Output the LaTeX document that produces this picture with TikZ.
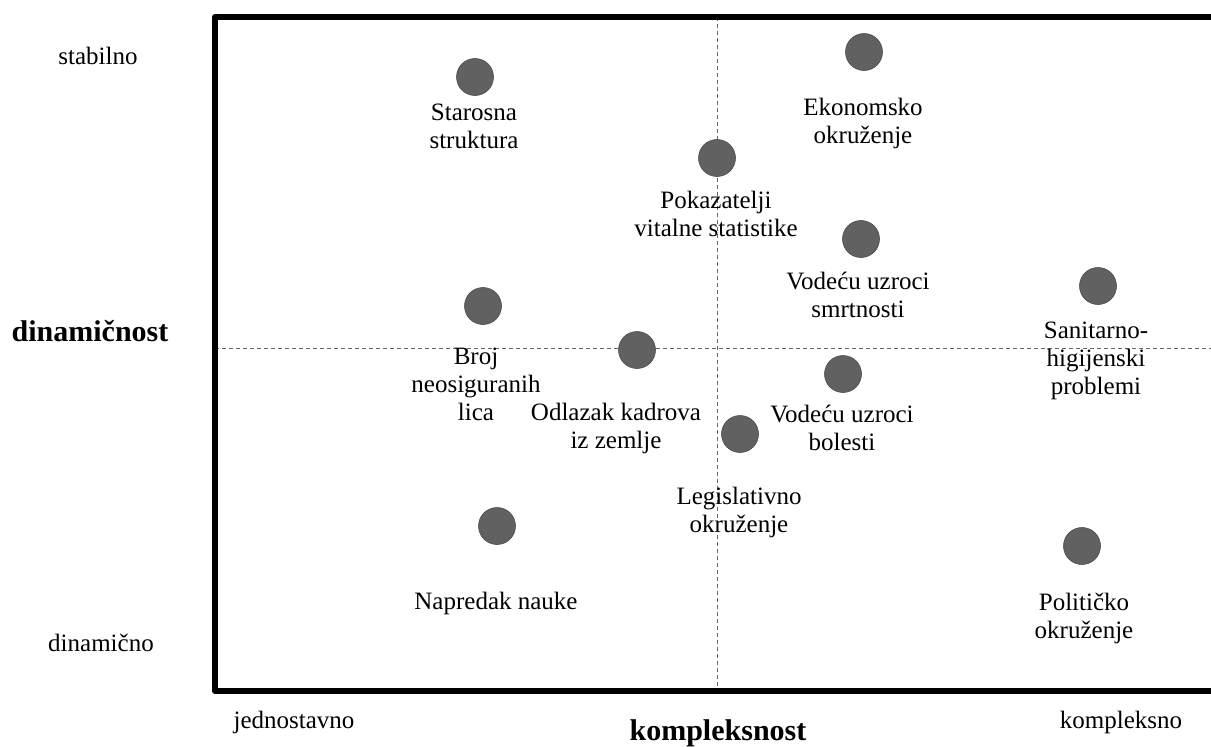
\documentclass[tikz,border=0pt]{standalone}
\usepackage{fontspec}
\setmainfont{Liberation Serif}
\begin{document}
\begin{tikzpicture}[x=1pt,y=-1pt,
  dot/.style={circle,draw=black!70,line width=0.6pt,fill=black!62,minimum size=37pt,inner sep=0pt},
  lbl/.style={align=center,inner sep=0pt,font=\fontsize{25}{28}\selectfont},
  axlbl/.style={inner sep=0pt,font=\fontsize{25}{28}\selectfont},
  ttl/.style={inner sep=0pt,font=\fontsize{30}{34}\selectfont\bfseries},
  guide/.style={draw=black!60,dashed,line width=0.6pt,dash pattern=on 4pt off 3pt},
  frame/.style={draw=black,line width=6pt,line join=round}]
\useasboundingbox (0,0) rectangle (1211,747);
% corners
\coordinate (tr) at (1211,17);
\coordinate (tl) at (215,17);
\coordinate (bl) at (215,691);
\coordinate (br) at (1211,691);
\coordinate (vt) at (717,17);
\coordinate (vb) at (717,691);
\coordinate (hl) at (215,348);
\coordinate (hr) at (1211,348);
% guides
\draw[guide] (vt) -- (vb);
\draw[guide] (hl) -- (hr);
% frame
\draw[frame] (tr) -- (tl) -- (bl) -- (br);
% dots
\node[dot] (d1) at (475,77) {};
\node[dot] (d2) at (864,52) {};
\node[dot] (d3) at (717,158) {};
\node[dot] (d4) at (861,239) {};
\node[dot] (d5) at (1098,286) {};
\node[dot] (d6) at (483,306) {};
\node[dot] (d7) at (637,350) {};
\node[dot] (d8) at (843,374) {};
\node[dot] (d9) at (740,434) {};
\node[dot] (d10) at (497,526) {};
\node[dot] (d11) at (1082,546) {};
% labels
\node[lbl] (l1) at (474,126) {Starosna\\struktura};
\node[lbl] (l2) at (863,123) {Ekonomsko\\okruženje};
\node[lbl] (l3) at (716,214) {Pokazatelji\\vitalne statistike};
\node[lbl] (l4) at (858,295) {Vodeću uzroci\\smrtnosti};
\node[lbl] (l5) at (1096,361) {Sanitarno-\\higijenski\\problemi};
\node[lbl] (l6) at (476,384) {Broj\\neosiguranih\\lica};
\node[lbl] (l7) at (616,428) {Odlazak kadrova\\iz zemlje};
\node[lbl] (l8) at (842,428) {Vodeću uzroci\\bolesti};
\node[lbl] (l9) at (739,512) {Legislativno\\okruženje};
\node[lbl] (l10) at (496,603) {Napredak nauke};
\node[lbl] (l11) at (1084,618) {Političko\\okruženje};
% axis labels
\node[axlbl] (a1) at (98,56) {stabilno};
\node[axlbl] (a2) at (101,643) {dinamično};
\node[ttl] (a3) at (90,331) {dinamičnost};
\node[axlbl] (a4) at (294,722) {jednostavno};
\node[ttl] (a5) at (718,733) {kompleksnost};
\node[axlbl] (a6) at (1121,722) {kompleksno};
\end{tikzpicture}
\end{document}
